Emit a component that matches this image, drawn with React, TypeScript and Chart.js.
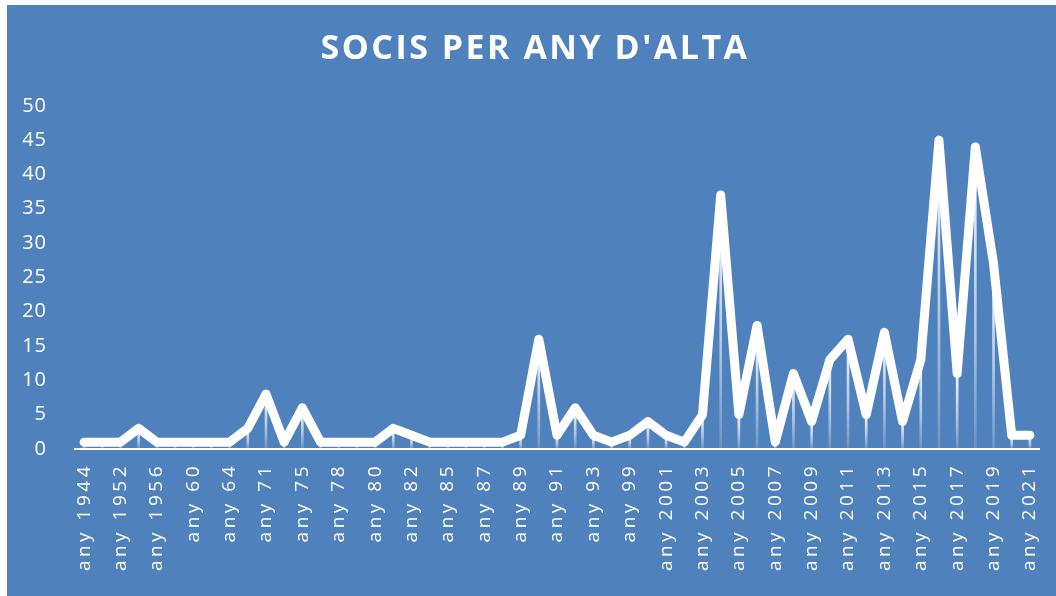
import React, { useEffect, useRef } from "react";
import { Chart, registerables } from "chart.js";

Chart.register(...registerables);

const TITLE = "SOCIS PER ANY D'ALTA";

const categories: string[] = [
  "any 1944", "any 1950", "any 1952", "any 1955", "any 1956", "any 58", "any 60", "any 62",
  "any 64", "any 69", "any 71", "any 73", "any 75", "any 77", "any 78", "any 79",
  "any 80", "any 81", "any 82", "any 84", "any 85", "any 86", "any 87", "any 88",
  "any 89", "any 90", "any 91", "any 92", "any 93", "any 98", "any 99", "any 2000",
  "any 2001", "any 2002", "any 2003", "any 2004", "any 2005", "any 2006", "any 2007", "any 2008",
  "any 2009", "any 2010", "any 2011", "any 2012", "any 2013", "any 2014", "any 2015", "any 2016",
  "any 2017", "any 2018", "any 2019", "any 2020", "any 2021",
];

const socis: number[] = [
  1, 1, 1, 3, 1, 1, 1, 1,
  1, 3, 8, 1, 6, 1, 1, 1,
  1, 3, 2, 1, 1, 1, 1, 1,
  2, 16, 2, 6, 2, 1, 2, 4,
  2, 1, 5, 37, 5, 18, 1, 11,
  4, 13, 16, 5, 17, 4, 13, 45,
  11, 44, 27, 2, 2,
];

const yTicks: number[] = [0, 5, 10, 15, 20, 25, 30, 35, 40, 45, 50];

const BG = "#4f81bd";
const FONT = "'Open Sans', 'Noto Sans', sans-serif";

const spacingPlugin = {
  id: "spacing",
  afterLayout(chart: any) {
    if (chart.__spaced) return;
    chart.__spaced = true;
    const wrap = (obj: any, key: string, sp: string, dx = 0) => {
      if (!obj) return;
      const orig = obj[key];
      obj[key] = function (...args: any[]) {
        const c = chart.ctx;
        c.save();
        c.letterSpacing = sp;
        if (dx) c.translate(dx, 0);
        const r = orig.apply(this, args);
        c.restore();
        return r;
      };
    };
    wrap(chart.titleBlock, "draw", "2.5px", 12);
    wrap(chart.scales.x, "drawLabels", "3.5px");
    wrap(chart.scales.y, "drawLabels", "1px");
  },
};

export default function App() {
  const ref = useRef<HTMLCanvasElement | null>(null);

  useEffect(() => {
    if (!ref.current) return;
    const chart = new Chart(ref.current, {
      type: "bar",
      data: {
        labels: categories,
        datasets: [
          {
            type: "line",
            label: "Socis",
            data: socis,
            borderColor: "#ffffff",
            backgroundColor: "#ffffff",
            borderWidth: 9,
            borderJoinStyle: "round",
            borderCapStyle: "round",
            pointRadius: 0,
            tension: 0,
            order: 0,
          } as any,
          {
            type: "bar",
            label: "drop",
            data: socis,
            barThickness: 2,
            backgroundColor: (c: any) => {
              const ch = c.chart;
              const { ctx, chartArea, scales } = ch;
              if (!chartArea || !scales.y) return "rgba(255,255,255,0.7)";
              const v = typeof c.raw === "number" ? c.raw : 0;
              const top = scales.y.getPixelForValue(v);
              const bottom = scales.y.getPixelForValue(0);
              if (!isFinite(top) || !isFinite(bottom) || top === bottom) return "rgba(255,255,255,0.7)";
              const g = ctx.createLinearGradient(0, top, 0, bottom);
              g.addColorStop(0, "rgba(255,255,255,0.95)");
              g.addColorStop(0.6, "rgba(255,255,255,0.55)");
              g.addColorStop(1, "rgba(255,255,255,0.15)");
              return g;
            },
            borderWidth: 0,
            order: 1,
          } as any,
        ],
      },
      options: {
        responsive: false,
        animation: false,
        devicePixelRatio: 1,
        layout: { padding: { left: 0, right: 17, top: 0, bottom: 0 } },
        plugins: {
          legend: { display: false },
          tooltip: { enabled: false },
          title: {
            display: true,
            text: TITLE,
            color: "#ffffff",
            font: { family: FONT, size: 34, weight: "bold" },
            padding: { top: 24, bottom: 36 },
          },
        },
        scales: {
          x: {
            offset: true,
            grid: { display: false, drawTicks: false },
            border: { display: true, color: "#ffffff", width: 2 },
            ticks: {
              color: "#ffffff",
              font: { family: FONT, size: 19 },
              minRotation: 90,
              maxRotation: 90,
              autoSkip: false,
              padding: 14,
              callback: (_v: any, i: number) => (i % 2 === 0 ? categories[i] : ""),
            },
            afterFit: (s: any) => {
              s.height = 147;
              s.paddingLeft = 0;
              s.paddingRight = 0;
            },
          },
          y: {
            min: 0,
            max: 50,
            grid: { display: false, drawTicks: false },
            border: { display: false },
            afterBuildTicks: (s: any) => {
              s.ticks = yTicks.map((v) => ({ value: v }));
            },
            ticks: {
              color: "#ffffff",
              font: { family: FONT, size: 20 },
              padding: 28,
            },
            afterFit: (s: any) => {
              s.width = 68;
              s.paddingTop = 0;
              s.paddingBottom = 0;
            },
          },
        },
      },
      plugins: [spacingPlugin],
    });
    return () => chart.destroy();
  }, []);

  return (
    <div
      style={{
        position: "absolute",
        left: 7,
        top: 5,
        width: 1049,
        height: 591,
        background: BG,
        overflow: "hidden",
      }}
    >
      <canvas ref={ref} width={1049} height={591} style={{ display: "block" }} />
    </div>
  );
}
